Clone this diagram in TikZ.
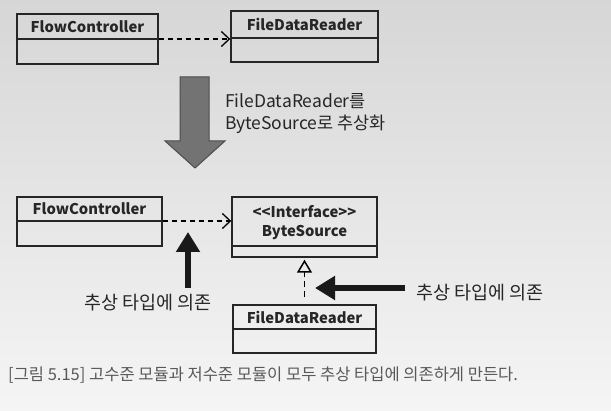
\documentclass[tikz,border=0pt]{standalone}
\usepackage{fontspec}
\setmainfont{Noto Sans CJK KR}
\usetikzlibrary{arrows.meta}
\begin{document}
\begin{tikzpicture}[x=1pt,y=-1pt,
  cls/.style={draw=black!85,line width=1.4pt,rectangle,inner sep=0pt},
  divl/.style={draw=black!85,line width=1.4pt},
  ttl/.style={font=\fontsize{14.8}{16}\selectfont\bfseries,text=black!85,inner sep=0pt},
  lbl/.style={font=\fontsize{17.5}{20}\selectfont,text=black!85,inner sep=0pt},
  klbl/.style={font=\fontsize{18.5}{20}\selectfont,text=black!85,inner sep=0pt},
  dep/.style={line width=1.3pt,dash pattern=on 5pt off 4pt,-{Straight Barb[length=8pt,width=15pt,line width=1.3pt]}},
  real/.style={line width=1.3pt,dash pattern=on 6pt off 4pt,-{Triangle[open,length=13pt,width=15pt,line width=1.5pt,sep=2pt]}},
  fat/.style={line width=5.5pt,draw=black!90,-{Triangle[length=20pt,width=23pt]}},
]
\shade[top color=gray!32,bottom color=gray!8] (0,0) rectangle (611,411);
\useasboundingbox (0,0) rectangle (611,411);

% top row
\node[cls,minimum width=141pt,minimum height=50pt] (fc1) at (87.5,39) {};
\draw[divl] (fc1.west |- 0,39) -- (fc1.east |- 0,39);
\node[ttl] (fc1t) at (87.5,26.5) {FlowController};

\node[cls,minimum width=147pt,minimum height=51pt] (fdr1) at (304.5,36.5) {};
\draw[divl] (fdr1.west |- 0,38) -- (fdr1.east |- 0,38);
\node[ttl] (fdr1t) at (304.5,24.5) {FileDataReader};

\draw[dep] (fc1.east |- 0,39) -- (fdr1.west |- 0,39);

% big arrow
\filldraw[fill=black!55,draw=black!70,line width=1pt]
  (180,77) -- (209,77) -- (209,141) -- (225,141) -- (195,168) -- (165,141) -- (180,141) -- cycle;
\node[lbl,anchor=west,align=left] (absl) at (225,114)
  {FileDataReader를\\[2pt]ByteSource로 추상화};

% bottom row
\node[cls,minimum width=145pt,minimum height=49pt] (fc2) at (89.5,221.5) {};
\draw[divl] (fc2.west |- 0,221) -- (fc2.east |- 0,221);
\node[ttl] (fc2t) at (89.5,209) {FlowController};

\node[cls,minimum width=145pt,minimum height=60pt] (bs) at (304.5,227) {};
\draw[divl] (bs.west |- 0,246) -- (bs.east |- 0,246);
\node[ttl] (bst1) at (304.5,212) {<{}<Interface>{}>};
\node[ttl] (bst2) at (304.5,233) {ByteSource};

\draw[dep] (fc2.east |- 0,221) -- (bs.west |- 0,221);

\node[cls,minimum width=143pt,minimum height=48pt] (fdr2) at (304.5,329) {};
\draw[divl] (fdr2.west |- 0,329) -- (fdr2.east |- 0,329);
\node[ttl] (fdr2t) at (304.5,317) {FileDataReader};

\draw[real] ([yshift=7pt]fdr2.north) -- (bs.south);

% dependency labels
\node[klbl] (dl1) at (148,303) {추상 타입에 의존};
\coordinate (up0) at (188,288);
\coordinate (up1) at (188,232);
\draw[fat] (up0) -- (up1);

\node[klbl,anchor=west] (dl2) at (416,293) {추상 타입에 의존};
\coordinate (lf0) at (405,288);
\coordinate (lf1) at (315,288);
\draw[fat] (lf0) -- (lf1);

% caption
\node[anchor=west,inner sep=0pt,text=black!65,font=\fontsize{16.5}{18}\selectfont] (cap) at (8,375)
  {[그림 5.15] 고수준 모듈과 저수준 모듈이 모두 추상 타입에 의존하게 만든다.};
\end{tikzpicture}
\end{document}
